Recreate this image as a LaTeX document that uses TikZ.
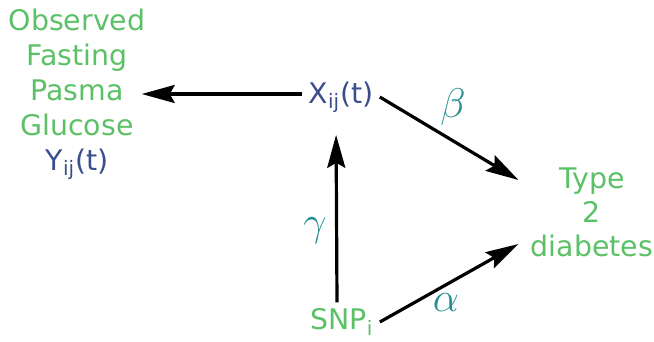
\documentclass[tikz,border=0pt]{standalone}
\usepackage{amssymb, amsmath}
\usepackage{fontspec}
\setmainfont{DejaVu Sans}
\usepackage{xcolor}
\usetikzlibrary{arrows.meta}
\definecolor{termGreen}{RGB}{92,192,102}
\definecolor{termBlue}{RGB}{58,78,140}
\definecolor{termTeal}{RGB}{38,142,142}
\begin{document}
\begin{tikzpicture}
[x=0.5pt,y=-0.5pt,
    textDecorate/.style={align=center,inner sep=3pt,text=termGreen,font=\fontsize{14.2}{17.5}\selectfont},%
    varDecorate/.style={inner sep=3pt,text=termBlue,font=\fontsize{14.2}{17.5}\selectfont},%
    greekDecorate/.style={inner sep=0pt,text=termTeal,font=\fontsize{20}{22}\selectfont},%
    lineDecorate/.style={black,-{Stealth[length=16.5pt,width=9pt,inset=2.5pt]},line width=1.6pt}]
    \useasboundingbox (0,0) rectangle (654,342);
    %% text nodes
    \node (fpg) at (77,94) [textDecorate] {Observed\\Fasting\\Pasma\\Glucose\\\textcolor{termBlue}{Y\textsubscript{ij}(t)}};
    \node (t2d) at (592,212) [textDecorate,font=\fontsize{14.2}{17}\selectfont] {Type\\2\\diabetes};
    %% variable nodes
    \node (xij) at (341,97) [varDecorate] {X\textsubscript{ij}(t)};
    \node (snp) at (342,322) [textDecorate] {SNP\textsubscript{i}};
    %% coefficients
    \foreach \nodename/\sym/\x/\y in {beta/\beta/453/107, gamma/\gamma/315/231, alpha/\alpha/446/303}
    {
        \node (\nodename) at (\x,\y) [greekDecorate] {$\sym$};
    }
    %% arrow ends at the outcome
    \coordinate (t2dUpper) at ([xshift=-3pt,yshift=16pt]t2d.west);
    \coordinate (t2dLower) at ([xshift=-3pt,yshift=-16pt]t2d.west);
    %% edges or lines
    \draw[lineDecorate,shorten >=-5pt] ([yshift=1.5pt]xij.west) -- ([yshift=1.5pt]xij.west -| fpg.east);
    \draw[lineDecorate] (xij.east) -- (t2dUpper);
    \draw[lineDecorate,shorten >=8pt] ([xshift=-2.5pt]snp.north) -- ([xshift=-2.5pt]xij.south);
    \draw[lineDecorate] (snp.east) -- (t2dLower);
\end{tikzpicture}
\end{document}
